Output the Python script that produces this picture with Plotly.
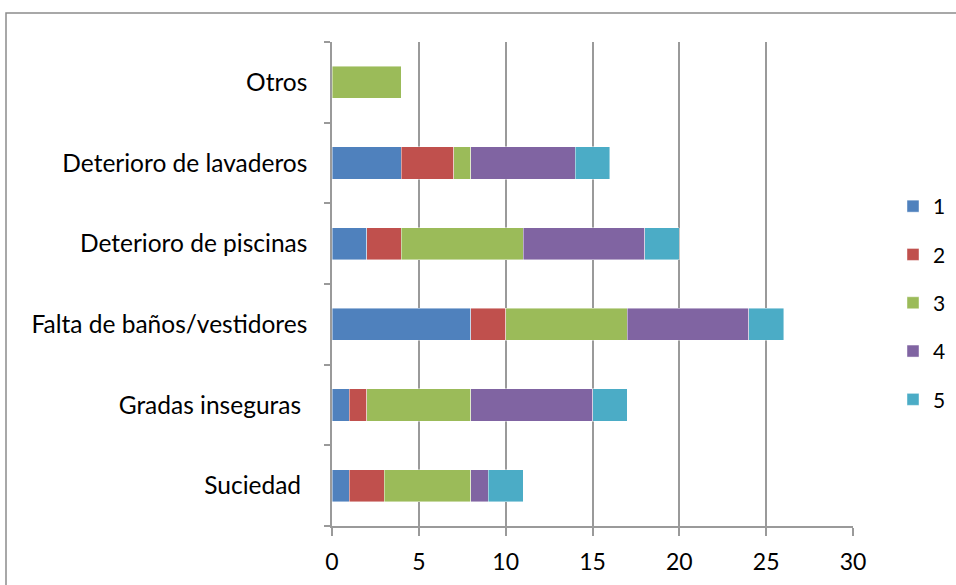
import plotly.graph_objects as go

# Problem categories (bottom to top) and counts per rating level
categories = ["Suciedad\u00a0", "Gradas inseguras\u00a0", "Falta de baños/vestidores",
              "Deterioro de piscinas", "Deterioro de lavaderos", "Otros"]
series_names = ["1", "2", "3", "4", "5"]
values_1 = [1, 1, 8, 2, 4, 0]
values_2 = [2, 1, 2, 2, 3, 0]
values_3 = [5, 6, 7, 7, 1, 4]
values_4 = [1, 7, 7, 7, 6, 0]
values_5 = [2, 2, 2, 2, 2, 0]
x_ticks = [0, 5, 10, 15, 20, 25, 30]

colors = ["#4F81BD", "#C0504D", "#9BBB59", "#8064A2", "#4BACC6"]
all_values = [values_1, values_2, values_3, values_4, values_5]

FONT = "Lato, Calibri, Carlito, sans-serif"

fig = go.Figure()
for name, vals, col in zip(series_names, all_values, colors):
    fig.add_trace(go.Bar(
        y=categories, x=vals, name=name, orientation="h",
        marker=dict(color=col, line=dict(color="rgba(255,255,255,0.55)", width=0.8)),
        legendgroup=name,
    ))

# plot area in pixels: left 332, right 853, top 42, bottom 526
L, R, T, B = 332, 853, 42, 526
W, H = 956, 585
pw, ph = R - L, B - T

def px_x(p):
    return (p - L) / pw

def px_y(p):
    return (B - p) / ph

fig.update_layout(
    width=W, height=H,
    margin=dict(l=L, r=W - R, t=T, b=H - B, autoexpand=False),
    barmode="stack", bargap=0.6,
    plot_bgcolor="white", paper_bgcolor="white",
    font=dict(family=FONT, size=20, color="#000000"),
    xaxis=dict(
        range=[0, 30], tickvals=x_ticks, ticktext=[str(v) for v in x_ticks],
        showgrid=True, gridcolor="#9a9a9a", gridwidth=1.5,
        showline=True, linecolor="#9a9a9a", linewidth=1.5,
        ticks="outside", ticklen=8, tickcolor="#9a9a9a", tickwidth=1.5,
        ticklabelstandoff=7, zeroline=False, fixedrange=True,
        tickfont=dict(family=FONT, size=23),
    ),
    yaxis=dict(
        categoryorder="array", categoryarray=categories,
        showgrid=False, showline=True, linecolor="#9a9a9a", linewidth=1.5,
        ticks="outside", ticklen=6, tickcolor="#9a9a9a", tickwidth=1.5,
        tickson="boundaries", ticklabelstandoff=18, fixedrange=True,
        tickfont=dict(family=FONT, size=24.5),
    ),
    legend=dict(
        x=px_x(893), xanchor="left", y=px_y(303), yanchor="middle",
        traceorder="grouped", tracegroupgap=18,
        font=dict(family=FONT, size=21), bgcolor="rgba(0,0,0,0)",
        itemwidth=30,
    ),
    shapes=[dict(
        type="rect", xref="paper", yref="paper", layer="below",
        x0=px_x(6), x1=px_x(970), y0=px_y(600), y1=px_y(13),
        line=dict(color="#8c8c8c", width=1.5), fillcolor="rgba(0,0,0,0)",
    )],
)

fig.write_html("out.html")
